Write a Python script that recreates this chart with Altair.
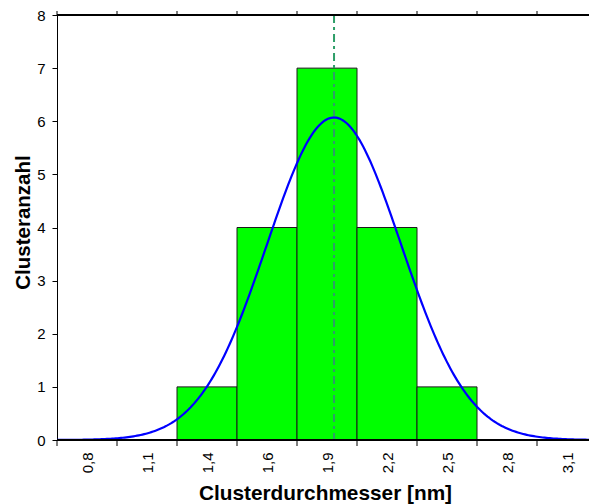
import altair as alt
import numpy as np
import pandas as pd

# Histogram of cluster diameters (nm)
bin_width = 0.29
bin_centers = [0.775, 1.065, 1.355, 1.645, 1.935, 2.225, 2.515, 2.805, 3.095]
tick_labels = ["0,8", "1,1", "1,4", "1,6", "1,9", "2,2", "2,5", "2,8", "3,1"]
counts = [0, 0, 1, 4, 7, 4, 1, 0, 0]

# Gaussian fit parameters
fit_mean = 1.969
fit_sigma = 0.324
n_total = sum(counts)

x_lo = bin_centers[0] - bin_width / 2
x_hi = x_lo + 532 / 60 * bin_width
bin_edges = [round(c - bin_width / 2, 4) for c in bin_centers]

bars = pd.DataFrame({
    "x0": [c - bin_width / 2 for c in bin_centers],
    "x1": [c + bin_width / 2 for c in bin_centers],
    "n": counts,
})
bars = bars[bars["n"] > 0]

xs = np.linspace(x_lo, x_hi, 300)
curve = pd.DataFrame({
    "x": xs,
    "y": n_total * bin_width / (fit_sigma * np.sqrt(2 * np.pi))
    * np.exp(-0.5 * ((xs - fit_mean) / fit_sigma) ** 2),
})

label_array = "[" + ",".join("'%s'" % t for t in tick_labels) + "]"
label_expr = label_array + "[round((datum.value - %f) / %f)]" % (bin_centers[0], bin_width)

FONT = "Liberation Sans"

xscale = alt.Scale(domain=[x_lo, x_hi], nice=False, zero=False)
yscale = alt.Scale(domain=[0, 8], nice=False)

x_axis = alt.Axis(
    values=bin_centers, labelExpr=label_expr, labelAngle=270, labelAlign="right",
    labelBaseline="middle", labelFont=FONT, labelFontSize=15, labelColor="#000",
    labelPadding=12, ticks=False, domain=False, grid=False,
    title="Clusterdurchmesser [nm]", titleFont=FONT, titleFontSize=20.8,
    titleFontWeight="bold", titleColor="#000", titleBaseline="alphabetic",
    titleX=268, titleY=59,
)
y_axis = alt.Axis(
    values=list(range(0, 9)), labelFont=FONT, labelFontSize=15, labelColor="#000",
    labelPadding=7, tickSize=5, tickColor="#000", domainColor="#000", grid=False,
    title="Clusteranzahl", titleFont=FONT, titleFontSize=20.5, titleFontWeight="bold",
    titleColor="#000", titleBaseline="alphabetic", titleX=-28, titleY=207,
)

bar_layer = alt.Chart(bars).mark_rect(
    color="#00FF00", stroke="#1a1a1a", strokeWidth=1
).encode(
    x=alt.X("x0:Q", scale=xscale, axis=x_axis),
    x2="x1:Q",
    y=alt.Y("n:Q", scale=yscale, axis=y_axis),
    y2=alt.datum(0),
)

# bottom and top edge ticks at the bin boundaries
edge_df = pd.DataFrame({"e": bin_edges})
bottom_ticks = alt.Chart(edge_df).mark_rule(color="#000", strokeWidth=1).encode(
    x=alt.X("e:Q", scale=xscale, axis=x_axis),
    y=alt.value(425), y2=alt.value(431),
)
top_ticks = alt.Chart(edge_df).mark_rule(color="#000", strokeWidth=1).encode(
    x=alt.X("e:Q", scale=xscale, axis=x_axis),
    y=alt.value(-4), y2=alt.value(0),
)
bottom_line = alt.Chart(edge_df).mark_rule(color="#000", strokeWidth=1.5).encode(
    x=alt.value(0), x2=alt.value(532), y=alt.value(425)
)
top_line = alt.Chart(edge_df).mark_rule(color="#000", strokeWidth=1.5).encode(
    x=alt.value(0), x2=alt.value(532), y=alt.value(0)
)

curve_layer = alt.Chart(curve).mark_line(color="#0000FF", strokeWidth=2.2).encode(
    x=alt.X("x:Q", scale=xscale, axis=x_axis),
    y=alt.Y("y:Q", scale=yscale, axis=y_axis),
)

mean_df = pd.DataFrame({"m": [fit_mean]})
mean_line = alt.Chart(mean_df).mark_rule(
    color="#2E9E68", strokeWidth=2, strokeDash=[8, 4, 3, 4]
).encode(
    x=alt.X("m:Q", scale=xscale, axis=x_axis),
    y=alt.value(0), y2=alt.value(425),
)

chart = alt.layer(
    bar_layer, mean_line, curve_layer, bottom_ticks, top_ticks, bottom_line, top_line
).properties(
    width=532, height=425,
    autosize=alt.AutoSizeParams(type="none"),
    padding={"left": 57, "top": 15, "right": 0, "bottom": 64},
    background="white",
).configure_view(stroke=None)

chart.save("out.html", embed_options={"renderer": "svg", "actions": False})
